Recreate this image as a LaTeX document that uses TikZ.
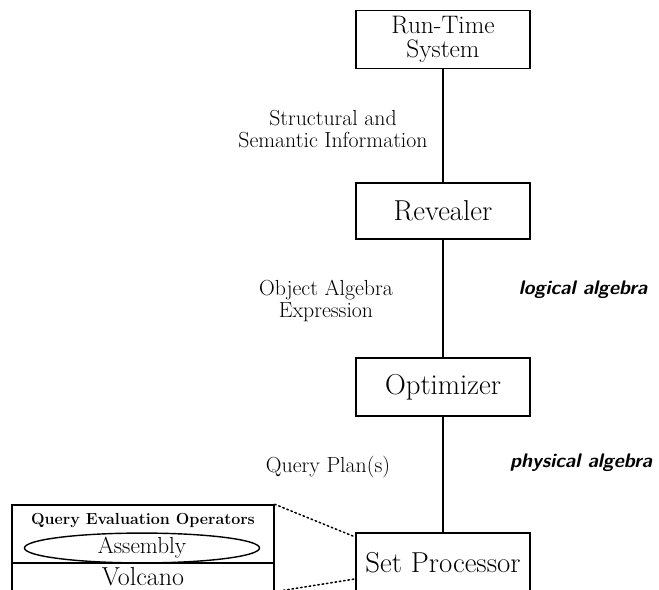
\documentclass[tikz,border=0pt]{standalone}
\usetikzlibrary{shapes.geometric}

\tikzset{
  unit/.style={draw, line width=1.3pt, minimum width=4.35cm, minimum height=1.45cm,
    inner sep=0pt, align=center, font=\fontsize{20.5}{17}\selectfont},
  lbl/.style={align=center, font=\fontsize{15.5}{15.5}\selectfont},
  alg/.style={font=\sffamily\bfseries\itshape\fontsize{14}{16}\selectfont},
  layer/.style={draw, line width=1pt, minimum width=6.55cm, inner sep=0pt}
}

\begin{document}
\begin{tikzpicture}[x=0.025cm,y=-0.025cm,cap=round]
        \useasboundingbox (0,0) rectangle (659,590);

        % draw the components
        \node[unit, font=\fontsize{18}{17.5}\selectfont] (rts) at (443,39.5) {Run-Time\\System};
        \node[unit, minimum height=1.4cm] (revealer) at (443,211) {Revealer};
        \node[unit] (optimizer) at (443,387) {Optimizer};
        \node[unit, minimum height=1.48cm] (setproc) at (443,562.5) {Set Processor};

        % lines between the components
        \draw[line width=1.3pt] (rts) -- (revealer);
        \draw[line width=1.3pt] (revealer) -- (optimizer);
        \draw[line width=1.3pt] (optimizer) -- (setproc);

        % what is passed along
        \node[lbl] (info) at (333,129) {Structural and\\Semantic Information};
        \node[lbl] (expr) at (326,301) {Object Algebra\\Expression};
        \node[lbl] (plan) at (328,467) {Query Plan(s)};

        % the two algebras
        \node[alg] (logical) at (583,290) {logical algebra};
        \node[alg] (physical) at (581,463) {physical algebra};

        % the set processor in detail
        \node[layer, minimum height=1.45cm] (operators) at (143,534) {};
        \node[font=\bfseries\fontsize{11.4}{13}\selectfont] (qeo) at (143,521) {Query Evaluation Operators};
        \node[draw, ellipse, line width=1pt, minimum width=5.875cm, minimum height=0.7cm,
          inner sep=0pt, font=\fontsize{16.5}{18}\selectfont] (assembly) at (142,548) {Assembly};
        \node[layer, minimum height=0.7cm, font=\fontsize{18.5}{18}\selectfont] (volcano) at (143,577) {Volcano};

        %draw the dotted zoom lines
        \draw[dotted, line width=1.1pt] (operators.north east) -- ([yshift=-3.5pt]setproc.north west);
        \draw[dotted, line width=1.1pt] (volcano.south east) -- ([yshift=10pt]setproc.south west);
\end{tikzpicture}
\end{document}
